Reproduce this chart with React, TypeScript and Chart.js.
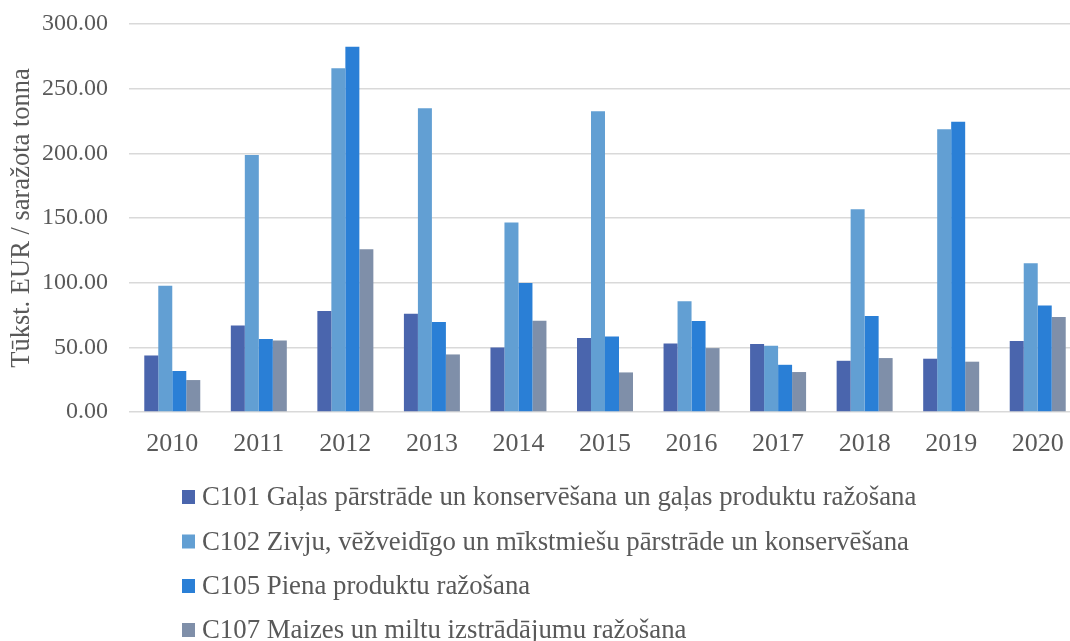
import React, { useEffect, useRef } from "react";
import { Chart, registerables } from "chart.js";

Chart.register(...registerables);

const years = ["2010", "2011", "2012", "2013", "2014", "2015", "2016", "2017", "2018", "2019", "2020"];
const c101 = [43.7, 66.9, 78.0, 75.9, 49.9, 57.2, 53.0, 52.5, 39.6, 41.2, 54.9];
const c102 = [97.6, 198.8, 265.7, 234.8, 146.5, 232.5, 85.7, 51.2, 156.8, 218.6, 115.1];
const c105 = [31.7, 56.4, 282.5, 69.5, 99.7, 58.4, 70.3, 36.5, 74.2, 224.5, 82.4];
const c107 = [24.7, 55.3, 125.9, 44.5, 70.5, 30.6, 49.4, 30.9, 41.7, 38.9, 73.4];
const seriesNames = [
  "C101 Gaļas pārstrāde un konservēšana un gaļas produktu ražošana",
  "C102 Zivju, vēžveidīgo un mīkstmiešu pārstrāde un konservēšana",
  "C105 Piena produktu ražošana",
  "C107 Maizes un miltu izstrādājumu ražošana",
];
const seriesColors = ["#4a65ad", "#629fd3", "#2a7fd6", "#7f8fa9"];
const yAxisTitle = "Tūkst. EUR / saražota tonna";

const FONT = "'Liberation Serif', 'Times New Roman', serif";
const TEXT = "#595959";

const legendPlugin = {
  id: "stackedLegend",
  afterDraw(chart: any) {
    const ctx = chart.ctx;
    ctx.save();
    ctx.font = `26.8px ${FONT}`;
    ctx.textBaseline = "middle";
    ctx.textAlign = "left";
    const rows = [497, 541.5, 586, 630];
    chart.data.datasets.forEach((ds: any, i: number) => {
      const y = rows[i];
      ctx.fillStyle = ds.backgroundColor;
      ctx.fillRect(182, y - 7, 13, 14);
      ctx.fillStyle = TEXT;
      ctx.fillText(ds.label, 202, y + 1);
    });
    ctx.restore();
  },
};

export default function App() {
  const ref = useRef<HTMLCanvasElement | null>(null);
  useEffect(() => {
    if (!ref.current) return;
    const datasets = [c101, c102, c105, c107].map((d, i) => ({
      label: seriesNames[i],
      data: d,
      backgroundColor: seriesColors[i],
      borderWidth: 0,
      barPercentage: 1,
      categoryPercentage: 0.647,
    }));
    const chart = new Chart(ref.current, {
      type: "bar",
      data: { labels: years, datasets },
      options: {
        animation: false,
        responsive: false,
        layout: { padding: { top: 24, right: 3, bottom: 0, left: 0 } },
        plugins: {
          legend: { display: false },
          tooltip: { enabled: false },
        },
        scales: {
          x: {
            grid: { display: false, drawTicks: false },
            border: { display: false },
            ticks: { color: TEXT, font: { family: FONT, size: 26 }, padding: 17, maxRotation: 0 },
            afterFit: (s: any) => {
              s.height = 229;
            },
          },
          y: {
            min: 0,
            max: 300,
            grid: { color: "#d9d9d9", lineWidth: 1.5, drawTicks: false },
            border: { display: false },
            ticks: {
              stepSize: 50,
              color: TEXT,
              font: { family: FONT, size: 24 },
              padding: 21,
              callback: (v: any) => Number(v).toFixed(2),
            },
            title: {
              display: true,
              text: yAxisTitle,
              color: TEXT,
              font: { family: FONT, size: 26.5, weight: "normal" },
              padding: { top: 6, bottom: 0 },
            },
            afterFit: (s: any) => {
              s.width = 129;
              s.paddingTop = 0;
              s.paddingBottom = 0;
            },
          },
        },
      },
      plugins: [legendPlugin],
    });
    return () => chart.destroy();
  }, []);
  return (
    <div style={{ position: "absolute", left: 0, top: 0, width: 1070, height: 641, overflow: "hidden", background: "#fff" }}>
      <canvas ref={ref} width={1084} height={641} style={{ width: 1084, height: 641, display: "block" }} />
    </div>
  );
}
